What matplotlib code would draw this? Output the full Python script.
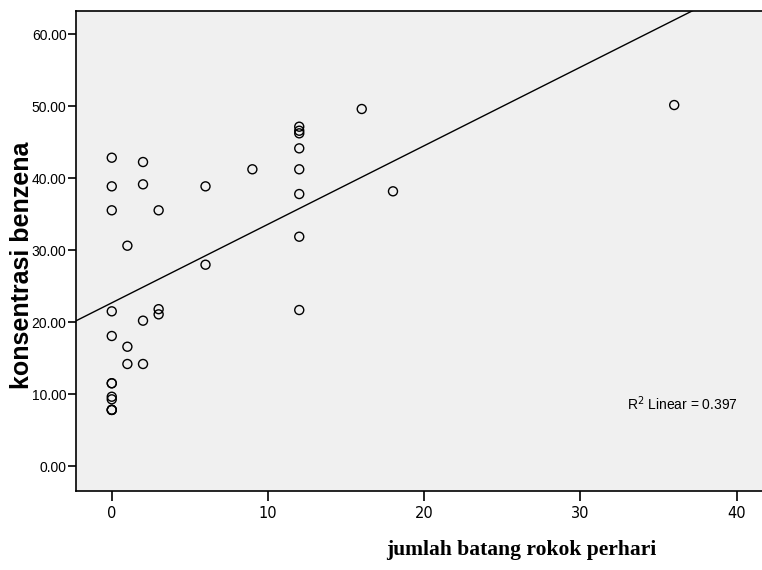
import numpy as np
import matplotlib
matplotlib.use('Agg')
import matplotlib.pyplot as plt
from matplotlib.ticker import FormatStrFormatter

# batang rokok per hari vs konsentrasi benzena
rokok = [0, 0, 0, 0, 0, 0, 0, 0, 0, 0, 0, 0,
         1, 1, 1,
         2, 2, 2, 2,
         3, 3, 3,
         6, 6,
         9,
         12, 12, 12, 12, 12, 12, 12, 12,
         16, 18, 36]
benzena = [42.85, 38.87, 35.54, 21.5, 18.07, 11.5, 11.5, 9.63, 9.27, 7.8, 7.8, 7.8,
           30.62, 16.58, 14.18,
           42.25, 39.15, 20.2, 14.18,
           35.54, 21.8, 21.08,
           38.87, 27.98,
           41.24,
           47.16, 46.6, 46.24, 44.15, 41.24, 37.8, 31.87, 21.68,
           49.62, 38.18, 50.17]

# koefisien garis regresi (fit linear, R2 = 0.397)
intercept = 22.68
slope = 1.092
r2_text = 'R$^2$ Linear = 0.397'

W, H = 762, 570
fig = plt.figure(figsize=(W / 100, H / 100), dpi=100)
ax = fig.add_axes([76.3 / W, (H - 490.7) / H, (W + 4 - 76.3) / W, (490.7 - 11) / H])
ax.set_facecolor('#f0f0f0')

ax.scatter(rokok, benzena, s=42, facecolors='none', edgecolors='black',
           linewidths=1.0, zorder=3)

xs = np.array([-5, 45])
ax.plot(xs, intercept + slope * xs, color='black', lw=1.0, zorder=2)

ax.set_xlim(-2.27, (W + 4 - 111.7) / 15.625)
ax.set_ylim(-3.43, 63.24)
ax.set_xticks([0, 10, 20, 30, 40])
ax.set_yticks([0, 10, 20, 30, 40, 50, 60])
ax.yaxis.set_major_formatter(FormatStrFormatter('%.2f'))

for sp in ax.spines.values():
    sp.set_linewidth(1.2)
ax.tick_params(axis='y', direction='out', length=6, width=1.2, pad=1, labelsize=10)
ax.tick_params(axis='x', direction='out', length=7, width=1.2, pad=4, labelsize=10.5)
for lbl in ax.get_yticklabels():
    lbl.set_fontfamily('Liberation Sans')
for lbl in ax.get_xticklabels():
    lbl.set_fontfamily('Liberation Sans Narrow')

ax.text(33.0, 8.7, r2_text, fontsize=10, family='Liberation Sans',
        va='center', ha='left')

fig.text(22 / W, 1 - 265 / H, 'konsentrasi benzena', fontsize=18, fontweight='bold',
         family='Liberation Sans', rotation=90, ha='center', va='center')
fig.text(521 / W, 1 - 550 / H, 'jumlah batang rokok perhari', fontsize=15.5,
         fontweight='bold', family='Liberation Serif', ha='center', va='center')

fig.savefig('out.png', dpi=100)
